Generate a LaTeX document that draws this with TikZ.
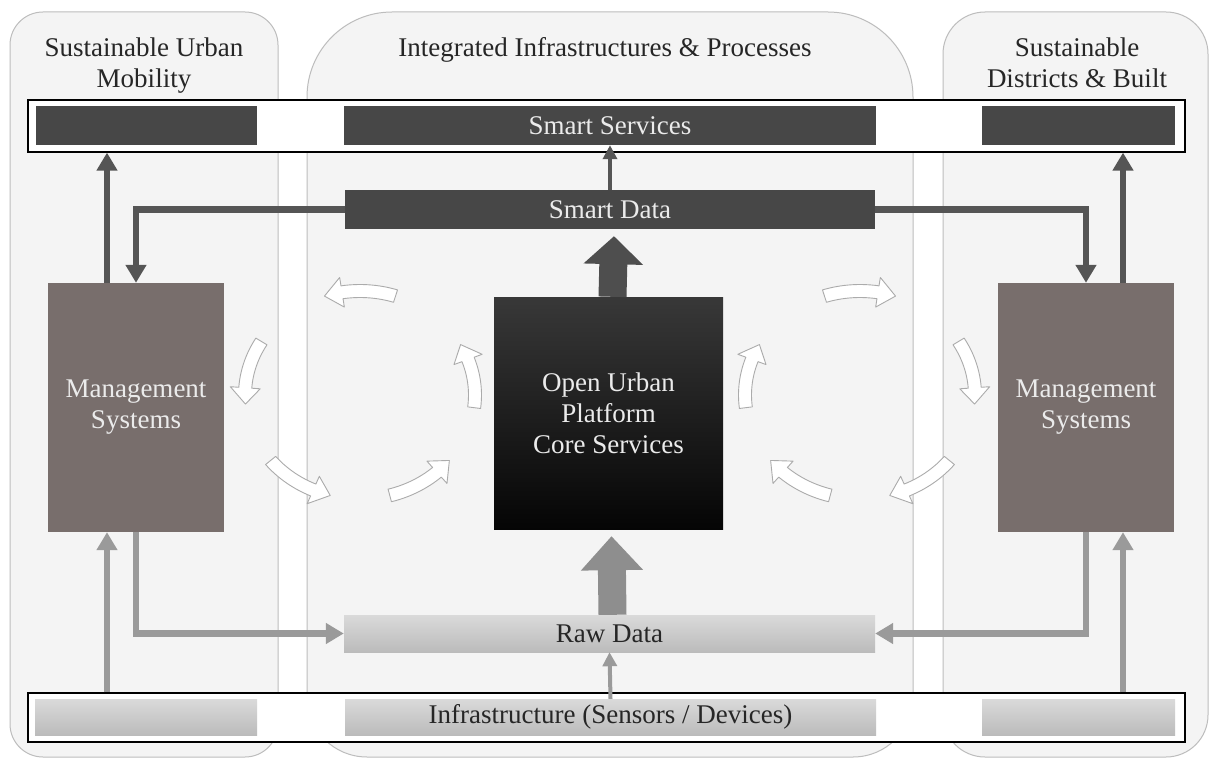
\documentclass[tikz,border=0pt]{standalone}
\usepackage{fontspec}
\setmainfont{Liberation Serif}
\usetikzlibrary{arrows.meta,calc}
\definecolor{panelfill}{HTML}{F4F4F4}
\definecolor{paneldraw}{HTML}{BDBDBD}
\definecolor{darkfill}{HTML}{474747}
\definecolor{mgmtfill}{HTML}{786E6C}
\definecolor{darkline}{HTML}{555555}
\definecolor{grayline}{HTML}{9A9A9A}
\definecolor{lighttop}{HTML}{DADADA}
\definecolor{lightbot}{HTML}{BBBBBB}
\definecolor{hollowdraw}{HTML}{ABABAB}
\definecolor{bigdark}{HTML}{4E4E4E}
\definecolor{biggray}{HTML}{8E8E8E}
\definecolor{lighttext}{HTML}{EBEBEB}

\def\hcRx{115}
\def\hcRy{104}
\def\hcW{6.5}
\def\hcHW{15}
\newcommand\hollowcurve[4]{%
  \pgfmathsetmacro\hcA{#3}%
  \pgfmathsetmacro\hcB{#4}%
  \pgfmathsetmacro\hcH{#4-9*sign(#4-#3)}%
  \draw[hollow] plot[domain=\hcA:\hcH, samples=14] ({#1+(\hcRx+\hcW)*cos(\x)},{#2+(\hcRy+\hcW)*sin(\x)})
    -- ({#1+(\hcRx+\hcHW)*cos(\hcH)},{#2+(\hcRy+\hcHW)*sin(\hcH)})
    -- ({#1+\hcRx*cos(\hcB)},{#2+\hcRy*sin(\hcB)})
    -- ({#1+(\hcRx-\hcHW)*cos(\hcH)},{#2+(\hcRy-\hcHW)*sin(\hcH)})
    -- plot[domain=\hcH:\hcA, samples=14] ({#1+(\hcRx-\hcW)*cos(\x)},{#2+(\hcRy-\hcW)*sin(\x)})
    -- cycle;}

\tikzset{
  panel/.style={draw=paneldraw, fill=panelfill, line width=1pt},
  band/.style={draw=black, fill=white, line width=1.3pt, inner sep=0pt},
  darkbox/.style={fill=darkfill, inner sep=0pt, text=lighttext},
  mgmtbox/.style={fill=mgmtfill, inner sep=0pt, text=lighttext, align=center},
  lightbox/.style={top color=lighttop, bottom color=lightbot, inner sep=0pt, text=black!85},
  corebox/.style={top color=black!78, bottom color=black!98, inner sep=0pt, text=lighttext, align=center},
  title/.style={inner sep=0pt, text=black!85, align=center},
  darkconn/.style={draw=darkline, line width=6.5pt, -{Triangle[length=18pt,width=20pt]}},
  grayconn/.style={draw=grayline, line width=6.5pt, -{Triangle[length=18pt,width=20pt]}},
  darkthin/.style={draw=darkline, line width=4pt, -{Triangle[length=14pt,width=14pt]}},
  graythin/.style={draw=grayline, line width=4pt, -{Triangle[length=14pt,width=14pt]}},
  bigdarkarrow/.style={draw=bigdark, line width=28pt, -{Triangle[length=28pt,width=58pt]}},
  biggrayarrow/.style={draw=biggray, line width=28pt, -{Triangle[length=34pt,width=60pt]}},
  hollow/.style={draw=hollowdraw, fill=white, line width=0.9pt, line join=round}
}

\begin{document}
\begin{tikzpicture}[x=1pt, y=-1pt, font=\fontsize{27}{31}\selectfont]
\useasboundingbox (0,0) rectangle (1211,760);
\fill[white] (0,0) rectangle (1211,760);

% panels
\draw[panel, rounded corners=33pt] (10,12) rectangle (278,757);
\draw[panel] (307,400) [rounded corners=85pt] -- (307,12) -- (913,12) -- (913,400) [rounded corners=60pt] -- (913,757) -- (307,757) -- cycle;
\draw[panel, rounded corners=42pt] (943,12) rectangle (1208,757);

% titles
\node[title] (tL) at (144,65.5) {Sustainable Urban\\Mobility};
\node[title, anchor=base] (tC) at (605,57) {Integrated Infrastructures \& Processes};
\node[title] (tR) at (1077,62.5) {Sustainable\\Districts \& Built};

% bands
\node[band, minimum width=1157pt, minimum height=52pt] (topband) at (606.5,126) {};
\node[band, minimum width=1157pt, minimum height=49pt] (botband) at (606.5,717.5) {};

% top band boxes
\node[darkbox, minimum width=221pt, minimum height=39pt] (svL) at (146.5,125.5) {};
\node[darkbox, minimum width=532pt, minimum height=39pt] (svC) at (610,125.5) {Smart Services};
\node[darkbox, minimum width=193pt, minimum height=39pt] (svR) at (1078.5,125.5) {};

% smart data
\node[darkbox, minimum width=530pt, minimum height=39pt] (sdata) at (610,209.5) {Smart Data};

% core
\node[corebox, minimum width=229pt, minimum height=232pt] (core) at (608.5,413) {Open Urban\\Platform\\Core Services};

% management systems
\node[mgmtbox, minimum width=176pt, minimum height=249pt] (mgL) at (136,407.5) {Management\\Systems};
\node[mgmtbox, minimum width=176pt, minimum height=249pt] (mgR) at (1086,407.5) {Management\\Systems};

% raw data
\node[lightbox, minimum width=531pt, minimum height=37pt] (raw) at (609.5,633.5) {Raw Data};

% bottom band boxes
\node[lightbox, minimum width=222pt, minimum height=36pt] (infL) at (146,717) {};
\node[lightbox, minimum width=531pt, minimum height=36pt] (infC) at (610.5,717) {Infrastructure (Sensors / Devices)};
\node[lightbox, minimum width=193pt, minimum height=36pt] (infR) at (1078.5,717) {};

% big arrows
\draw[bigdarkarrow] ([xshift=4pt]core.north) -- ([xshift=4pt,yshift=-7pt]sdata.south);
\draw[biggrayarrow] ([xshift=3pt]raw.north) -- ([xshift=3pt,yshift=-7pt]core.south);

% dark connectors
\coordinate (upL) at ([xshift=-29pt]mgL.north);
\coordinate (upR) at ([xshift=37pt]mgR.north);
\draw[darkconn] (upL) -- (upL |- topband.south);
\draw[darkconn] (upR) -- (upR |- topband.south);
\draw[darkconn] (sdata.west) -| (mgL.north);
\draw[darkconn] (sdata.east) -| (mgR.north);
\draw[darkthin] (sdata.north) -- (svC.south);

% gray connectors
\coordinate (lupL) at ([xshift=-29pt]mgL.south);
\coordinate (lupR) at ([xshift=37pt]mgR.south);
\draw[grayconn] (lupL |- botband.north) -- (lupL);
\draw[grayconn] (lupR |- botband.north) -- (lupR);
\draw[grayconn] (mgL.south) |- (raw.west);
\draw[grayconn] (mgR.south) |- (raw.east);
\draw[graythin] (infC.north) -- (raw.south);

% hollow cycle arrows, left (counter-clockwise)
\hollowcurve{360}{395}{288}{252}
\hollowcurve{360}{395}{211}{175}
\hollowcurve{360}{395}{141}{105}
\hollowcurve{360}{395}{75}{39}
\hollowcurve{360}{395}{7}{-29}
% right (clockwise)
\hollowcurve{860}{395}{252}{288}
\hollowcurve{860}{395}{-31}{5}
\hollowcurve{860}{395}{39}{75}
\hollowcurve{860}{395}{105}{141}
\hollowcurve{860}{395}{173}{209}
\end{tikzpicture}
\end{document}
